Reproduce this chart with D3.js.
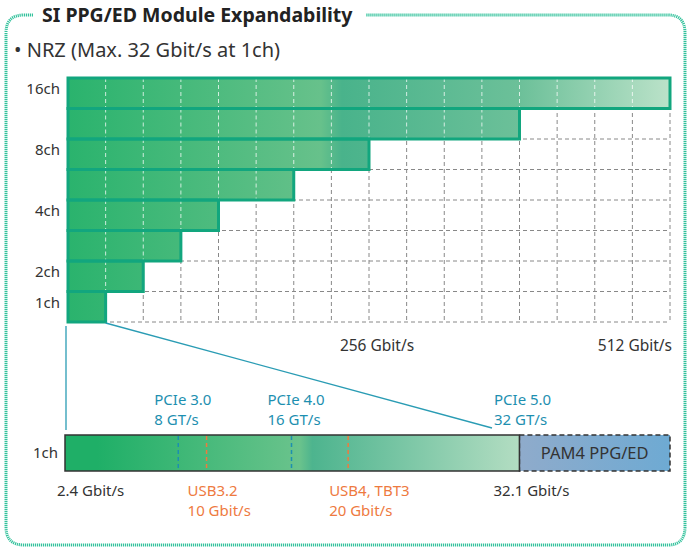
<!DOCTYPE html>
<html>
<head>
<meta charset="utf-8">
<script src="https://cdn.jsdelivr.net/npm/d3@7"></script>
<style>
  body { margin: 0; background: #fff; }
  text { font-family: "Noto Sans", "Open Sans", sans-serif; }
</style>
</head>
<body>
<div id="chart"></div>
<script>
// NRZ expandability: max data rate per channel count (Gbit/s)
var rowLabels = ["1ch", "2ch", "", "4ch", "", "8ch", "", "16ch"];
var rowRates = [32, 64, 96, 128, 192, 256, 384, 512];
var gridStep = 32;
var xTicks = [256, 512];

// 1ch zoom
var rateRange = [2.4, 32.1];
var pcieMarks = [
	{name: "PCIe 3.0", rate: "8 GT/s", v: 8},
	{name: "PCIe 4.0", rate: "16 GT/s", v: 16},
	{name: "PCIe 5.0", rate: "32 GT/s", v: 32}
];
var usbMarks = [
	{name: "USB3.2", rate: "10 Gbit/s", v: 10},
	{name: "USB4, TBT3", rate: "20 Gbit/s", v: 20}
];

var W = 689, H = 548;
var svg = d3.select("#chart").append("svg")
	.attr("width", W)
	.attr("height", H);

var defs = svg.append("defs");

function addGrad(id, x1, x2, stops){
	var g = defs.append("linearGradient")
		.attr("id", id)
		.attr("gradientUnits", "userSpaceOnUse")
		.attr("x1", x1).attr("x2", x2)
		.attr("y1", 0).attr("y2", 0);
	stops.forEach(function(s){
		g.append("stop").attr("offset", s[0]).attr("stop-color", s[1]);
	});
}

// frame
var teal = "#33c29c";
svg.append("path")
	.attr("d", "M33,15 L24,15 Q6,15 6,33 L6,527 Q6,545 24,545 L668,545 Q685,545 685,527 L685,33 Q685,15 668,15 L366,15")
	.attr("fill", "none")
	.attr("stroke", teal)
	.attr("stroke-width", 3)
	.attr("stroke-dasharray", "1.2,0.8");

svg.append("text")
	.attr("x", 42).attr("y", 22)
	.style("font-size", "19.5px")
	.style("font-weight", "bold")
	.attr("fill", "#222")
	.text("SI PPG/ED Module Expandability");

svg.append("text")
	.attr("x", 14).attr("y", 57)
	.style("font-size", "20px")
	.attr("fill", "#333")
	.text("\u2022 NRZ (Max. 32 Gbit/s at 1ch)");

// ---- top stacked-steps chart
var x = d3.scaleLinear().domain([0, 512]).range([68, 670]);
var y = d3.scaleBand().domain(d3.range(rowRates.length)).range([322, 78]);

addGrad("topGrad", x(0), x(512), [
	[0, "#2ab36d"], [0.42, "#67c18b"], [0.455, "#49b38b"],
	[0.75, "#6cc099"], [1, "#bbe2c9"]
]);

var g = svg.append("g");

// grid
var cols = d3.range(gridStep, 512 + 1, gridStep);
g.selectAll(".vgrid").data(cols).enter().append("line")
	.attr("x1", function(d){ return x(d); })
	.attr("x2", function(d){ return x(d); })
	.attr("y1", y.range()[1]).attr("y2", y.range()[0])
	.attr("stroke", "#888").attr("stroke-width", 1)
	.attr("stroke-dasharray", "4,3");

g.selectAll(".hgrid").data(d3.range(rowRates.length + 1)).enter().append("line")
	.attr("x1", x(0)).attr("x2", x(512))
	.attr("y1", function(d){ return y.range()[0] - d * y.step(); })
	.attr("y2", function(d){ return y.range()[0] - d * y.step(); })
	.attr("stroke", "#888").attr("stroke-width", 1)
	.attr("stroke-dasharray", "4,3");

// bars
g.selectAll(".bar").data(rowRates).enter().append("rect")
	.attr("x", x(0))
	.attr("y", function(d, i){ return y(i); })
	.attr("width", function(d){ return x(d) - x(0); })
	.attr("height", y.bandwidth())
	.attr("fill", "url(#topGrad)");

// light dashes inside bars
rowRates.forEach(function(r, i){
	var inner = cols.filter(function(c){ return c < r; });
	g.selectAll(".in" + i).data(inner).enter().append("line")
		.attr("x1", function(d){ return x(d); })
		.attr("x2", function(d){ return x(d); })
		.attr("y1", y(i)).attr("y2", y(i) + y.bandwidth())
		.attr("stroke", "#fff").attr("stroke-opacity", 0.75)
		.attr("stroke-width", 1)
		.attr("stroke-dasharray", "4,3");
});

g.selectAll(".barEdge").data(rowRates).enter().append("rect")
	.attr("x", x(0))
	.attr("y", function(d, i){ return y(i); })
	.attr("width", function(d){ return x(d) - x(0); })
	.attr("height", y.bandwidth())
	.attr("fill", "none")
	.attr("stroke", "#12a67e")
	.attr("stroke-width", 3);

g.selectAll(".rowLab").data(rowLabels).enter().append("text")
	.attr("x", 60)
	.attr("y", function(d, i){ return y(i) + y.bandwidth() / 2 + 1; })
	.attr("text-anchor", "end")
	.style("font-size", "15px")
	.attr("fill", "#333")
	.text(function(d){ return d; });

g.selectAll(".xLab").data(xTicks).enter().append("text")
	.attr("x", function(d, i){ return i == xTicks.length - 1 ? x(d) + 2 : x(d) + 8; })
	.attr("y", 351)
	.attr("text-anchor", function(d, i){ return i == xTicks.length - 1 ? "end" : "middle"; })
	.style("font-size", "15.5px")
	.attr("fill", "#333")
	.text(function(d){ return d + " Gbit/s"; });

// ---- 1ch zoom bar
var xb = d3.scaleLinear().domain([0, 32]).range([65, 518]);
var barTop = 435, barH = 36;

addGrad("botGrad", xb(rateRange[0]) - 2, xb(rateRange[1]), [
	[0, "#1faf67"], [0.48, "#6ac38c"], [0.51, "#4db48e"], [1, "#b3ddc2"]
]);
addGrad("pamGrad", xb(rateRange[1]), 670, [
	[0, "#8fabcb"], [1, "#6eaad3"]
]);

// zoom lines
var zoomCol = "#2a9cb4";
svg.append("line")
	.attr("x1", x(0) - 2).attr("y1", y.range()[0] + 4)
	.attr("x2", x(0) - 2).attr("y2", barTop - 5)
	.attr("stroke", zoomCol).attr("stroke-width", 1.3);
svg.append("line")
	.attr("x1", x(rowRates[0])).attr("y1", y.range()[0] + 1)
	.attr("x2", xb(32) - 26).attr("y2", barTop - 7)
	.attr("stroke", zoomCol).attr("stroke-width", 1.3);

var pamW = 670 - xb(rateRange[1]);
svg.append("rect")
	.attr("x", xb(rateRange[1])).attr("y", barTop)
	.attr("width", pamW).attr("height", barH)
	.attr("fill", "url(#pamGrad)")
	.attr("stroke", "#333").attr("stroke-width", 1.5)
	.attr("stroke-dasharray", "5,3");
svg.append("text")
	.attr("x", xb(rateRange[1]) + pamW / 2).attr("y", barTop + barH / 2 + 6)
	.attr("text-anchor", "middle")
	.style("font-size", "16.5px")
	.attr("fill", "#333")
	.text("PAM4 PPG/ED");

svg.append("rect")
	.attr("x", xb(0)).attr("y", barTop)
	.attr("width", xb(rateRange[1]) - xb(0)).attr("height", barH)
	.attr("fill", "url(#botGrad)")
	.attr("stroke", "#333").attr("stroke-width", 1.5);

// standard markers
var pcieCol = "#1d8fb0", usbCol = "#ee7a3f";
function markers(list, col){
	svg.selectAll(null).data(list.filter(function(d){ return d.v < 32; })).enter().append("line")
		.attr("x1", function(d){ return xb(d.v); })
		.attr("x2", function(d){ return xb(d.v); })
		.attr("y1", barTop + 1).attr("y2", barTop + barH - 1)
		.attr("stroke", col).attr("stroke-width", 1.5)
		.attr("stroke-dasharray", "4,3");
}
markers(pcieMarks, pcieCol);
markers(usbMarks, usbCol);

var pl = svg.selectAll(".pcie").data(pcieMarks).enter().append("text")
	.attr("x", function(d){ return xb(d.v) - 24; })
	.attr("y", 405)
	.style("font-size", "15px")
	.attr("fill", pcieCol);
pl.append("tspan").text(function(d){ return d.name; });
pl.append("tspan").attr("x", function(d){ return xb(d.v) - 24; }).attr("dy", 20)
	.text(function(d){ return d.rate; });

var ul = svg.selectAll(".usb").data(usbMarks).enter().append("text")
	.attr("x", function(d){ return xb(d.v) - 19; })
	.attr("y", 496)
	.style("font-size", "15px")
	.attr("fill", usbCol);
ul.append("tspan").text(function(d){ return d.name; });
ul.append("tspan").attr("x", function(d){ return xb(d.v) - 19; }).attr("dy", 20)
	.text(function(d){ return d.rate; });

svg.selectAll(".ends").data(rateRange).enter().append("text")
	.attr("x", function(d, i){ return i == 0 ? xb(0) - 8 : xb(d) + 12; })
	.attr("y", 496)
	.attr("text-anchor", function(d, i){ return i == 0 ? "start" : "middle"; })
	.style("font-size", "15px")
	.attr("fill", "#333")
	.text(function(d){ return d + " Gbit/s"; });

svg.append("text")
	.attr("x", 58).attr("y", barTop + barH / 2 + 5)
	.attr("text-anchor", "end")
	.style("font-size", "15px")
	.attr("fill", "#333")
	.text("1ch");
</script>
</body>
</html>
